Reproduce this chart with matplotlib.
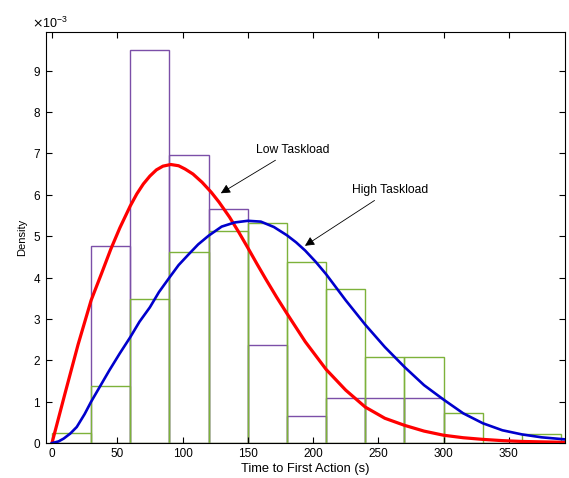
import matplotlib.pyplot as plt
import numpy as np

# Histogram bins (s) and densities (x 1e-3)
bin_edges = [0, 30, 60, 90, 120, 150, 180, 210, 240, 270, 300, 330, 360]
low_density = [0, 4.75, 9.5, 6.95, 5.65, 2.38, 0.65, 1.08, 1.08, 1.08, 0, 0, 0]
high_density = [0.25, 1.38, 3.47, 4.62, 5.12, 5.32, 4.38, 3.72, 2.08, 2.08, 0.72, 0, 0.22]

# Fitted curves (x 1e-3)
low_x = [0, 5, 10, 20, 30, 38, 45, 52, 60, 65, 70, 75, 80, 85, 91, 97, 102, 108,
         115, 122, 128, 136, 143, 150, 157, 164, 172, 180, 194, 210, 225, 240,
         255, 270, 285, 300, 315, 330, 345, 360, 375, 393]
low_y = [0, 0.6, 1.2, 2.38, 3.45, 4.1, 4.68, 5.2, 5.73, 6.02, 6.26, 6.45, 6.6,
         6.69, 6.73, 6.7, 6.62, 6.5, 6.3, 6.06, 5.82, 5.46, 5.1, 4.72, 4.33,
         3.95, 3.53, 3.13, 2.45, 1.78, 1.28, 0.87, 0.6, 0.43, 0.29, 0.19, 0.13,
         0.09, 0.06, 0.04, 0.03, 0.02]
high_x = [0, 5, 9, 14, 19, 25, 30, 37, 44, 52, 60, 67, 75, 82, 90, 97, 105, 112,
          120, 130, 140, 150, 160, 170, 180, 187, 194, 202, 210, 225, 240, 255,
          270, 285, 300, 315, 330, 345, 360, 375, 393]
high_y = [0, 0.04, 0.11, 0.23, 0.39, 0.7, 1.0, 1.38, 1.76, 2.17, 2.56, 2.93, 3.28,
          3.65, 4.0, 4.3, 4.57, 4.8, 5.01, 5.23, 5.33, 5.37, 5.35, 5.22, 5.02,
          4.85, 4.65, 4.38, 4.08, 3.45, 2.86, 2.32, 1.84, 1.4, 1.05, 0.72, 0.48,
          0.31, 0.21, 0.14, 0.09]

scale = 1e-3
purple = "#7B4FA8"
green = "#7DB23A"

plt.rcParams['font.family'] = ['Liberation Sans', 'DejaVu Sans']
fig = plt.figure(figsize=(5.69, 4.78), dpi=100)
ax = fig.add_axes([0.081, 0.073, 0.912, 0.86])

ax.bar(bin_edges, np.array(low_density) * scale, width=30, align='edge',
       fill=False, edgecolor=purple, linewidth=1.0)
ax.bar(bin_edges, np.array(high_density) * scale, width=30, align='edge',
       fill=False, edgecolor=green, linewidth=1.0)

ax.plot(low_x, np.array(low_y) * scale, color='#FF0000', linewidth=2.3,
        solid_joinstyle='round')
ax.plot(high_x, np.array(high_y) * scale, color='#0000CC', linewidth=1.9,
        solid_joinstyle='round')

arrow = dict(arrowstyle='-|>', color='black', linewidth=0.6, mutation_scale=14)
ax.annotate("Low Taskload", xy=(127.5, 6.0e-3), xytext=(156, 7.08e-3),
            fontsize=8.7, va='center', ha='left', arrowprops=arrow)
ax.annotate("High Taskload", xy=(192, 4.73e-3), xytext=(230, 6.11e-3),
            fontsize=8.7, va='center', ha='left', arrowprops=arrow)

ax.set_xlim(-4.5, 393)
ax.set_ylim(0, 9.93e-3)
ax.set_xticks(range(0, 351, 50))
ax.set_yticks(np.arange(0, 10) * scale)
ax.ticklabel_format(axis='y', style='sci', scilimits=(0, 0), useMathText=True)
offset = ax.yaxis.get_offset_text()
offset.set_fontsize(9)
offset.set_x(-0.028)
ax.tick_params(direction='in', top=True, right=True, labelsize=8.5, length=4)
for s in ax.spines.values():
    s.set_linewidth(0.8)

ax.set_xlabel("Time to First Action (s)", fontsize=9.3, labelpad=2)
ax.set_ylabel("Density", fontsize=8, labelpad=4)

fig.savefig("out.png", dpi=100)
plt.close(fig)
